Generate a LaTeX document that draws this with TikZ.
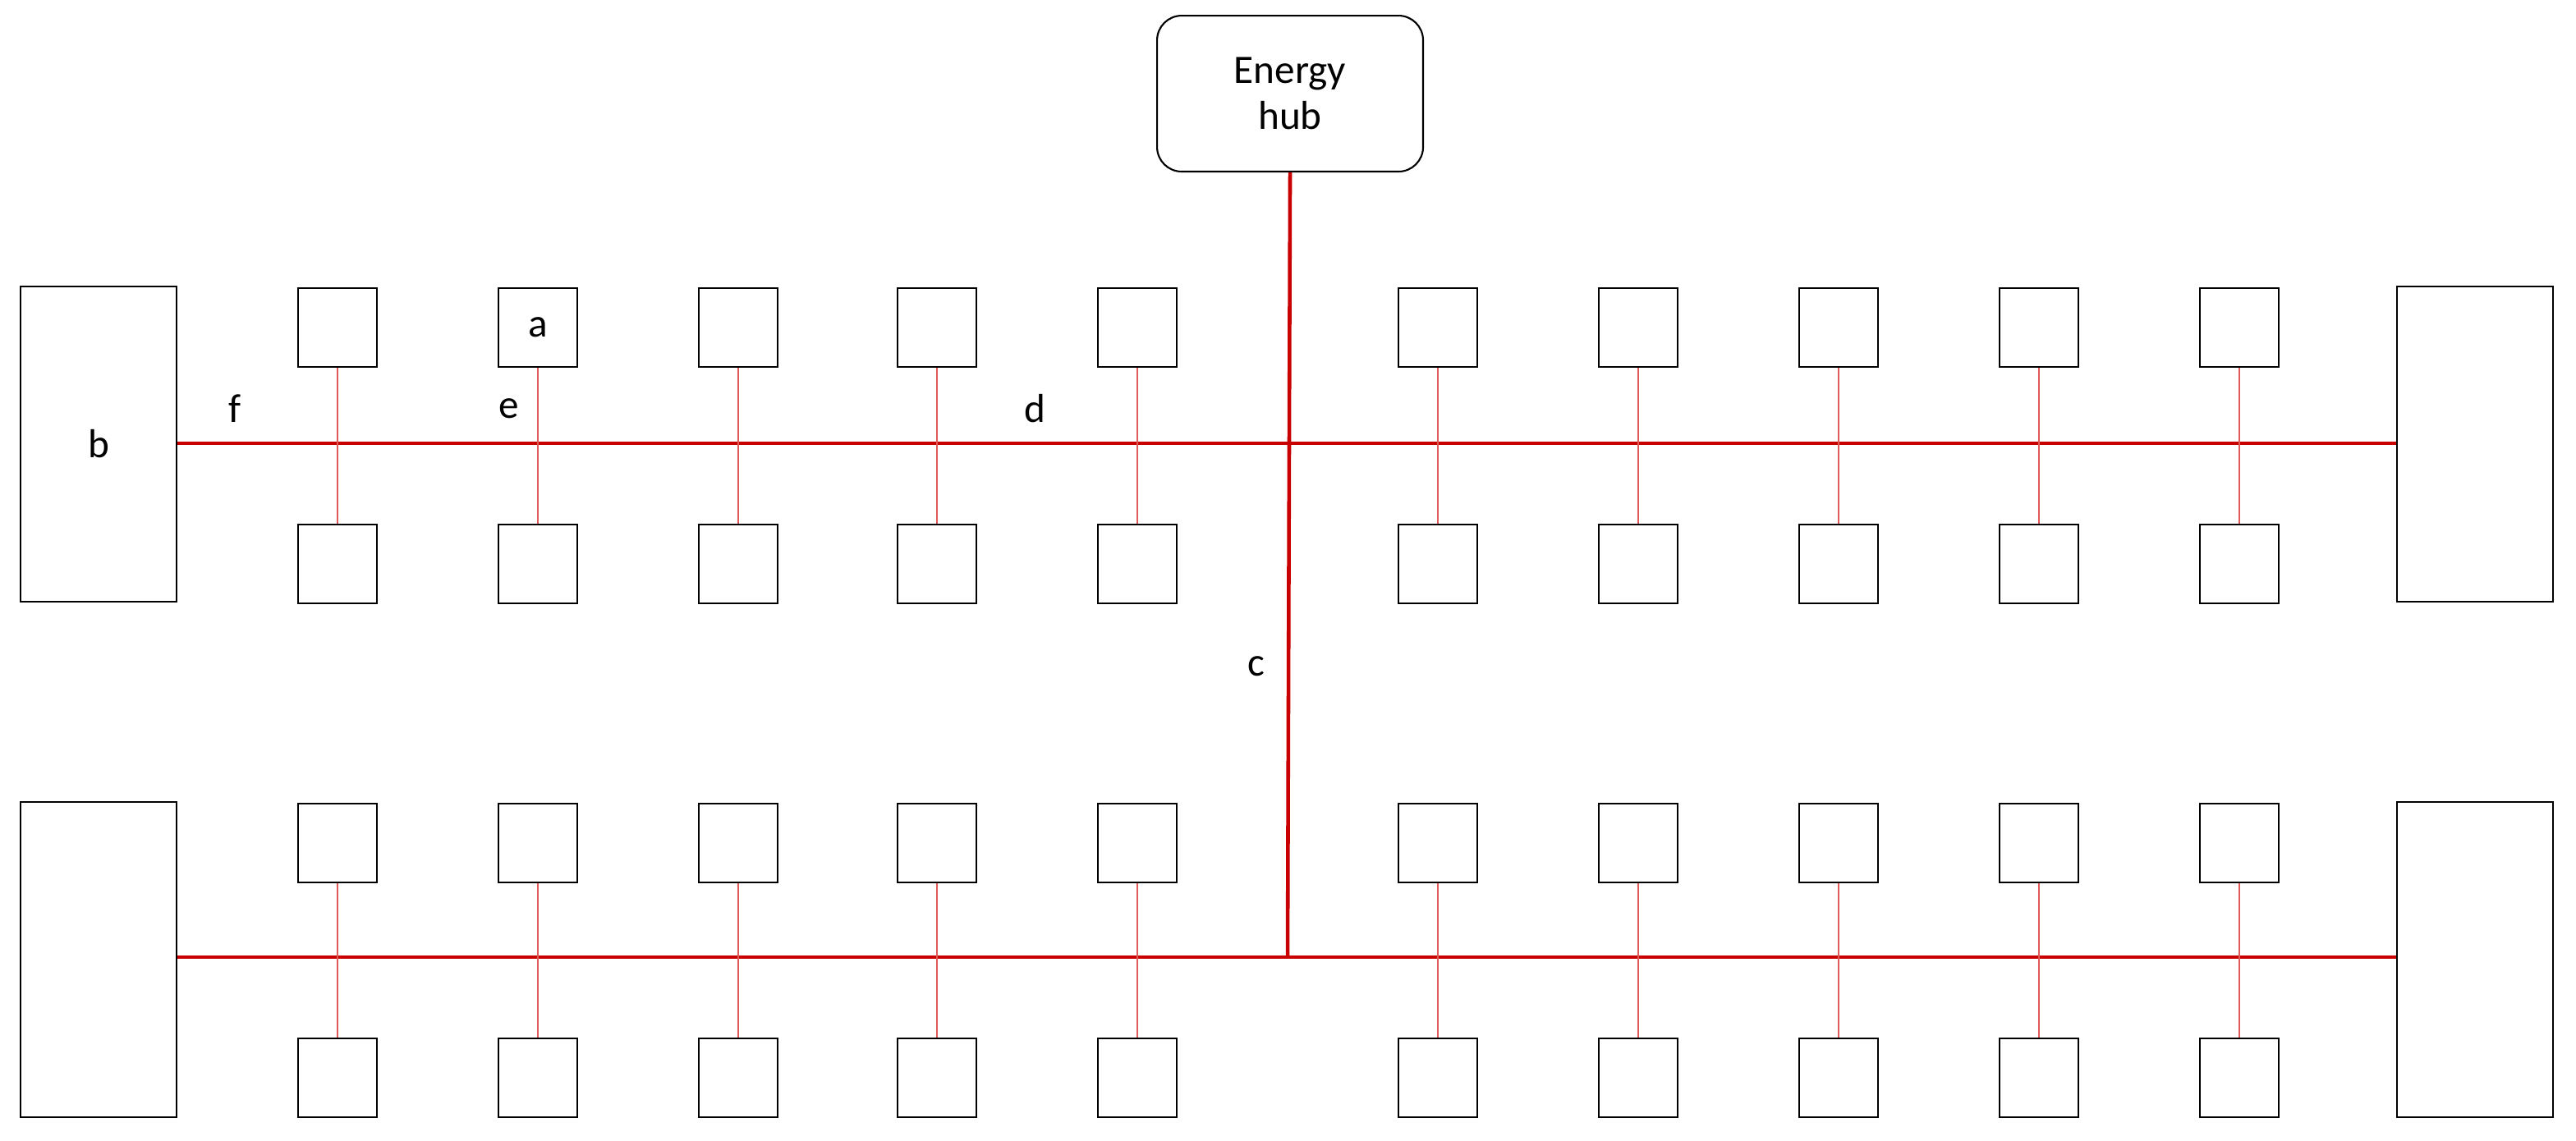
\documentclass[tikz,border=0pt]{standalone}
\usepackage{fontspec}
\setmainfont{Carlito}
\begin{document}
\begin{tikzpicture}[x=0.02cm,y=-0.02cm,
  box/.style={draw,line width=0.6pt,minimum width=0.96cm,minimum height=0.96cm,inner sep=0pt,anchor=north west},
  big/.style={draw,line width=0.6pt,minimum width=1.9cm,minimum height=3.84cm,inner sep=0pt,anchor=north west},
  bus/.style={draw={rgb,255:red,200;green,0;blue,0},line width=1.3pt},
  stub/.style={draw={rgb,255:red,225;green,90;blue,90},line width=0.7pt},
  lbl/.style={font=\fontsize{14}{16}\selectfont}]
\useasboundingbox (0,0) rectangle (1568.5,694.5);

% hub
\node[draw,rounded corners=0.3cm,line width=0.6pt,minimum width=3.24cm,minimum height=1.9cm,
  align=center,lbl,anchor=north west] (hub) at (704,9) {Energy\\hub};

% big boxes
\node[big] (L1) at (12,174) {};
\node[big] (L2) at (12,488) {};
\node[big] (R1) at (1459,174) {};
\node[big] (R2) at (1459,488) {};

% bus lines
\coordinate (c1) at (784,270);
\coordinate (c2) at (784,583);
\draw[bus] (L1.east |- c1) -- (R1.west |- c1);
\draw[bus] (L2.east |- c2) -- (R2.west |- c2);
\draw[bus] (hub.south) -- (c2);

% small boxes and stubs
\foreach \x [count=\i] in {181,303,425,546,668,851,973,1095,1217,1339} {
  \node[box] (ta\i) at (\x,175) {};
  \node[box] (ba\i) at (\x,319) {};
  \node[box] (tb\i) at (\x,489) {};
  \node[box] (bb\i) at (\x,632) {};
  \draw[stub] (ta\i.south) -- (ba\i.north);
  \draw[stub] (tb\i.south) -- (bb\i.north);
}

% labels
\node[lbl] (la) at (ta2.center) {a};
\node[lbl] (lb) at (L1.center) {b};
\node[lbl] (lc) at (765,406) {c};
\node[lbl] (ld) at (630,249) {d};
\node[lbl] (le) at (310,249) {e};
\node[lbl] (lf) at (143,249) {f};
\end{tikzpicture}
\end{document}
